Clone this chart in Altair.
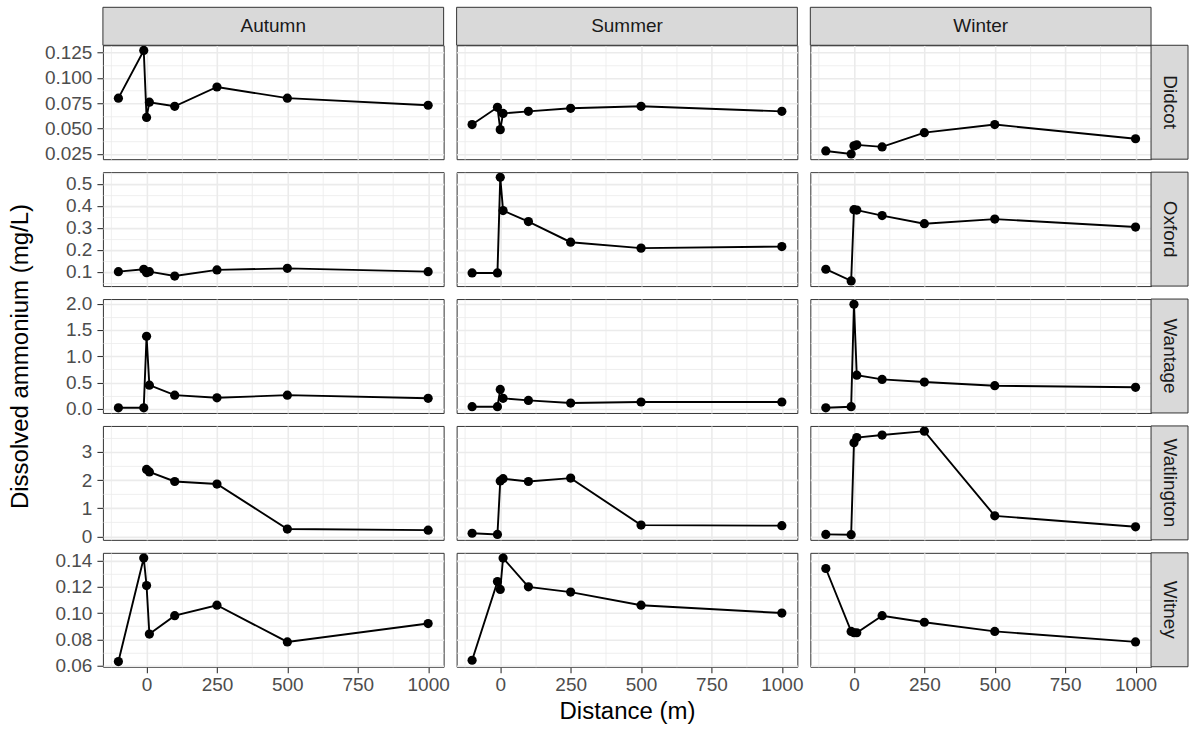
import altair as alt
import pandas as pd

FONT = "Liberation Sans"

seasons = ["Autumn", "Summer", "Winter"]
sites = ["Didcot", "Oxford", "Wantage", "Watlington", "Witney"]
distance = [-100, -10, 0, 10, 100, 250, 500, 1000]

# Dissolved ammonium (mg/L), one list per site and season, in distance order
didcot_autumn = [0.080, 0.127, 0.061, 0.076, 0.072, 0.091, 0.080, 0.073]
didcot_summer = [0.054, 0.071, 0.049, 0.065, 0.067, 0.070, 0.072, 0.067]
didcot_winter = [0.028, 0.025, 0.033, 0.034, 0.032, 0.046, 0.054, 0.040]
oxford_autumn = [0.100, 0.111, 0.095, 0.100, 0.080, 0.108, 0.115, 0.100]
oxford_summer = [0.094, 0.094, 0.529, 0.378, 0.328, 0.234, 0.207, 0.214]
oxford_winter = [0.111, 0.058, 0.382, 0.380, 0.355, 0.318, 0.339, 0.303]
wantage_autumn = [0.02, 0.02, 1.38, 0.45, 0.26, 0.21, 0.26, 0.20]
wantage_summer = [0.04, 0.04, 0.37, 0.20, 0.16, 0.11, 0.13, 0.13]
wantage_winter = [0.02, 0.04, 1.99, 0.64, 0.56, 0.51, 0.44, 0.41]
watlington_autumn = [None, None, 2.38, 2.29, 1.95, 1.86, 0.26, 0.22]
watlington_summer = [0.11, 0.07, 1.97, 2.05, 1.95, 2.07, 0.40, 0.38]
watlington_winter = [0.07, 0.06, 3.33, 3.51, 3.60, 3.74, 0.73, 0.34]
witney_autumn = [0.063, 0.142, 0.121, 0.084, 0.098, 0.106, 0.078, 0.092]
witney_summer = [0.064, 0.124, 0.118, 0.142, 0.120, 0.116, 0.106, 0.100]
witney_winter = [0.134, 0.086, 0.085, 0.085, 0.098, 0.093, 0.086, 0.078]

# axis tick labels
x_ticks = [0, 250, 500, 750, 1000]
y_ticks = {
    "Didcot": [0.025, 0.050, 0.075, 0.100, 0.125],
    "Oxford": [0.1, 0.2, 0.3, 0.4, 0.5],
    "Wantage": [0.0, 0.5, 1.0, 1.5, 2.0],
    "Watlington": [0, 1, 2, 3],
    "Witney": [0.06, 0.08, 0.10, 0.12, 0.14],
}
y_formats = {"Didcot": ".3f", "Oxford": ".1f", "Wantage": ".1f",
             "Watlington": "d", "Witney": ".2f"}

series = {
    ("Didcot", "Autumn"): didcot_autumn, ("Didcot", "Summer"): didcot_summer,
    ("Didcot", "Winter"): didcot_winter,
    ("Oxford", "Autumn"): oxford_autumn, ("Oxford", "Summer"): oxford_summer,
    ("Oxford", "Winter"): oxford_winter,
    ("Wantage", "Autumn"): wantage_autumn, ("Wantage", "Summer"): wantage_summer,
    ("Wantage", "Winter"): wantage_winter,
    ("Watlington", "Autumn"): watlington_autumn, ("Watlington", "Summer"): watlington_summer,
    ("Watlington", "Winter"): watlington_winter,
    ("Witney", "Autumn"): witney_autumn, ("Witney", "Summer"): witney_summer,
    ("Witney", "Winter"): witney_winter,
}

records = []
for (site, season), vals in series.items():
    for d, v in zip(distance, vals):
        if v is not None:
            records.append({"site": site, "season": season, "dist": d, "nh4": v})
df = pd.DataFrame(records)


def expand(lo, hi, f=0.05):
    p = (hi - lo) * f
    return [lo - p, hi + p]


def minors(ticks, dom):
    step = ticks[1] - ticks[0]
    cand = [ticks[0] - step / 2] + [t + step / 2 for t in ticks]
    return [c for c in cand if dom[0] <= c <= dom[1]]


x_dom = expand(min(distance), max(distance))
x_minor = minors(x_ticks, x_dom)
y_dom = {s: expand(df[df.site == s].nh4.min(), df[df.site == s].nh4.max()) for s in sites}
y_minor = {s: minors(y_ticks[s], y_dom[s]) for s in sites}

W, H = 341, 114
STRIP = 38
GRID = "#EBEBEB"


def panel(i, site, j, season):
    sub = df[(df.site == site) & (df.season == season)]
    base = alt.Chart(sub)
    xs = alt.Scale(domain=x_dom, nice=False, zero=False)
    ys = alt.Scale(domain=y_dom[site], nice=False, zero=False)
    bottom = i == len(sites) - 1
    left = j == 0

    xmaj = dict(values=x_ticks, orient="bottom", grid=True, gridColor=GRID, gridWidth=1.6,
                domain=False, labels=bottom, ticks=bottom, tickSize=6, tickWidth=1.1,
                tickColor="#333333", labelFontSize=19, labelColor="#4D4D4D",
                labelPadding=3, labelFont=FONT, labelFlush=False, labelOverlap=False,
                format="d", title=None)
    if bottom and j == 1:
        xmaj.update(title="Distance (m)", titleFontSize=24, titleFont=FONT,
                    titleFontWeight="normal", titleColor="black", titlePadding=5)
    ymaj = dict(values=y_ticks[site], orient="left", grid=True, gridColor=GRID, gridWidth=1.6,
                domain=False, labels=left, ticks=left, tickSize=6, tickWidth=1.1,
                tickColor="#333333", labelFontSize=19, labelColor="#4D4D4D",
                labelPadding=5, labelFont=FONT, format=y_formats[site],
                labelOverlap=False, title=None)
    if left:
        ymaj.update(minExtent=62, maxExtent=62)
    if left and site == "Wantage":
        ymaj.update(title="Dissolved ammonium (mg/L)", titleFontSize=24, titleFont=FONT,
                    titleFontWeight="normal", titleColor="black", titlePadding=8)

    line = base.mark_line(color="black", strokeWidth=1.9).encode(
        x=alt.X("dist:Q", scale=xs,
                axis=alt.Axis(values=x_minor, orient="top", grid=True, gridColor=GRID,
                              gridWidth=0.8, domain=False, labels=False, ticks=False,
                              title=None)),
        y=alt.Y("nh4:Q", scale=ys,
                axis=alt.Axis(values=y_minor[site], orient="right", grid=True, gridColor=GRID,
                              gridWidth=0.8, domain=False, labels=False, ticks=False,
                              title=None)),
    )
    pts = base.mark_circle(color="black", size=85, opacity=1).encode(
        x=alt.X("dist:Q", scale=xs, axis=alt.Axis(**xmaj)),
        y=alt.Y("nh4:Q", scale=ys, axis=alt.Axis(**ymaj)),
    )
    layers = [line, pts]
    if i == 0:
        sd = alt.Chart(pd.DataFrame({"label": [season]}))
        layers.append(sd.mark_rect(fill="#D9D9D9", stroke="#333333", strokeWidth=1).encode(
            x=alt.value(0), x2=alt.value(W), y=alt.value(-STRIP), y2=alt.value(0)))
        layers.append(sd.mark_text(fontSize=19, font=FONT, color="#1A1A1A",
                                   align="center", baseline="middle").encode(
            x=alt.value(W / 2), y=alt.value(-STRIP / 2), text="label:N"))
    if j == len(seasons) - 1:
        rd = alt.Chart(pd.DataFrame({"label": [site]}))
        layers.append(rd.mark_rect(fill="#D9D9D9", stroke="#333333", strokeWidth=1).encode(
            x=alt.value(W), x2=alt.value(W + 37), y=alt.value(0), y2=alt.value(H)))
        layers.append(rd.mark_text(fontSize=19, font=FONT, color="#1A1A1A", angle=90,
                                   align="center", baseline="middle").encode(
            x=alt.value(W + 18.5), y=alt.value(H / 2), text="label:N"))
    return alt.layer(*layers).resolve_axis(x="independent", y="independent").properties(
        width=W, height=H)


panels = [panel(i, s, j, se) for i, s in enumerate(sites) for j, se in enumerate(seasons)]

chart = alt.concat(*panels, columns=3, spacing=13, bounds="flush").properties(
    padding={"left": 8, "top": 6, "right": 0, "bottom": 5},
    background="white",
).configure_view(stroke="#333333", strokeWidth=1)

chart.save("out.html", embed_options={"renderer": "svg", "actions": False})
